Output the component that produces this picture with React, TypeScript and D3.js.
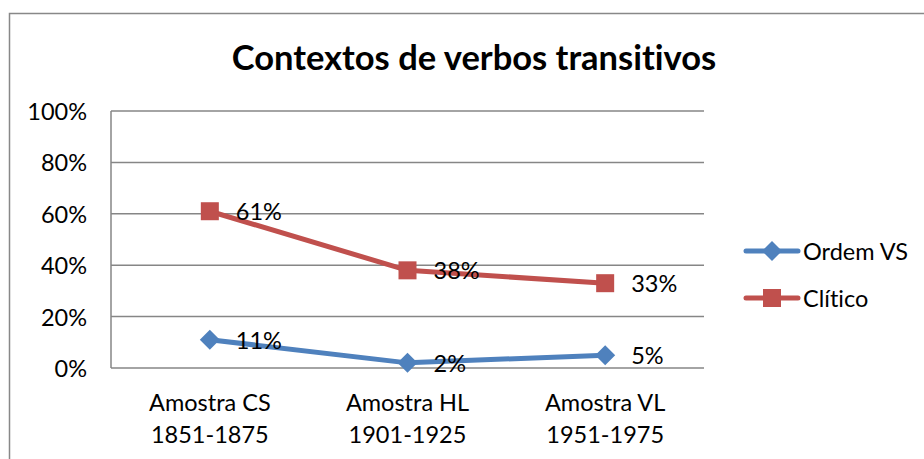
import React from "react";
import * as d3 from "d3";

const categories = [["Amostra CS", "1851-1875"], ["Amostra HL", "1901-1925"], ["Amostra VL", "1951-1975"]];
const seriesNames = ["Ordem VS", "Clítico"];
const ordemVS = [11, 2, 5];
const clitico = [61, 38, 33];
const yTicks = [0, 20, 40, 60, 80, 100];
const colors = ["#4F81BD", "#C0504D"];

const FONT = "Lato, 'Open Sans', sans-serif";
const FS = 23.5;

export default function App() {
  const W = 924, H = 459;
  const left = 111, right = 704, top = 111, bottom = 368;
  const x = d3.scaleBand<number>().domain([0, 1, 2]).range([left, right]);
  const y = d3.scaleLinear().domain([0, 100]).range([bottom, top]);
  const cx = (i: number) => (x(i) as number) + x.bandwidth() / 2;
  const line = d3.line<number>().x((_, i) => cx(i)).y((d) => y(d));
  const data = [ordemVS, clitico];

  const diamond = (px: number, py: number, r: number) =>
    `M${px},${py - r}L${px + r},${py}L${px},${py + r}L${px - r},${py}Z`;

  const txt = { fontFamily: FONT, fontVariantLigatures: "none" as const };

  return (
    <svg width={W} height={H} style={{ position: "absolute", left: 0, top: 0 }}>
      <rect x={0} y={0} width={W} height={H} fill="#fff" />
      <rect x={9.5} y={13.5} width={W + 10} height={H + 10} fill="none" stroke="#888" strokeWidth={1.5} />
      <text x={474} y={70} textAnchor="middle" style={txt} fontWeight="bold" fontSize={34.5} fill="#000">
        Contextos de verbos transitivos
      </text>
      {yTicks.map((t) => (
        <g key={t}>
          <line x1={left} x2={right} y1={y(t)} y2={y(t)} stroke="#868686" strokeWidth={1.5} />
          <text x={87} y={y(t) + 9} textAnchor="end" style={txt} fontSize={FS} fill="#000">
            {t}%
          </text>
        </g>
      ))}
      <line x1={left} x2={left} y1={top} y2={bottom} stroke="#868686" strokeWidth={1.5} />
      {categories.map((c, i) => (
        <text key={i} textAnchor="middle" style={txt} fontSize={FS} fill="#000">
          <tspan x={cx(i)} y={411}>{c[0]}</tspan>
          <tspan x={cx(i)} y={443}>{c[1]}</tspan>
        </text>
      ))}
      {data.map((s, k) => (
        <g key={k}>
          <path d={line(s) as string} fill="none" stroke={colors[k]} strokeWidth={5} strokeLinejoin="round" strokeLinecap="round" />
          {s.map((v, i) =>
            k === 0 ? (
              <path key={i} d={diamond(cx(i), y(v), 10)} fill={colors[k]} />
            ) : (
              <rect key={i} x={cx(i) - 9} y={y(v) - 9} width={18} height={18} fill={colors[k]} />
            )
          )}
          {s.map((v, i) => (
            <text key={"l" + i} x={cx(i) + 26} y={y(v) + 9} style={txt} fontSize={FS} fill="#000">
              {v}%
            </text>
          ))}
        </g>
      ))}
      {seriesNames.map((n, k) => {
        const ly = 251 + k * 47;
        return (
          <g key={n}>
            <line x1={746} x2={798} y1={ly} y2={ly} stroke={colors[k]} strokeWidth={5} strokeLinecap="round" />
            {k === 0 ? (
              <path d={diamond(772, ly, 10)} fill={colors[k]} />
            ) : (
              <rect x={763} y={ly - 9} width={18} height={18} fill={colors[k]} />
            )}
            <text x={803} y={ly + 9} style={txt} fontSize={FS} fill="#000">
              {n}
            </text>
          </g>
        );
      })}
    </svg>
  );
}
